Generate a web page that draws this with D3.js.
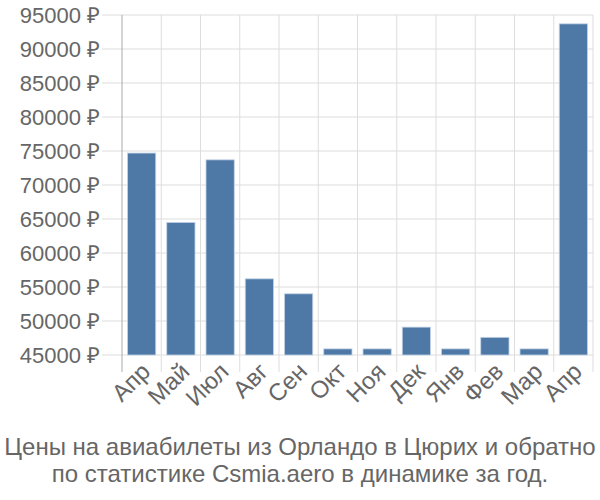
<!DOCTYPE html>
<html>
<head>
<meta charset="utf-8">
<script src="https://cdn.jsdelivr.net/npm/d3@7"></script>
<style>
  body { margin: 0; background: #fff; }
  text { font-family: "Liberation Sans", Arial, sans-serif; fill: #666; }
</style>
</head>
<body>
<div id="graphic"></div>
<script>
// months and average prices (rub)
var months = ["Апр", "Май", "Июл", "Авг", "Сен", "Окт", "Ноя", "Дек", "Янв", "Фев", "Мар", "Апр"];
var prices = [74700, 64500, 73700, 56200, 54000, 45900, 45900, 49100, 45900, 47600, 45900, 93700];
var yTicks = [45000, 50000, 55000, 60000, 65000, 70000, 75000, 80000, 85000, 90000, 95000];
var titleLines = ["Цены на авиабилеты из Орландо в Цюрих и обратно",
                  "по статистике Csmia.aero в динамике за год."];

var w = 600, h = 500;
var plotLeft = 122, plotRight = 593, plotTop = 15, plotBottom = 355;

var svg = d3.select("#graphic")
    .append("svg")
    .attr("width", w)
    .attr("height", h);

var idx = months.map(function(d, i){ return i; });

var xScale = d3.scaleBand()
    .domain(idx)
    .range([plotLeft, plotRight])
    .paddingInner(0.28)
    .paddingOuter(0.14);

var yScale = d3.scaleLinear()
    .domain([45000, 95000])
    .range([plotBottom, plotTop]);

// horizontal grid + tick marks
svg.append("g")
    .selectAll("line")
    .data(yTicks)
    .enter()
    .append("line")
    .attr("x1", plotLeft - 20)
    .attr("x2", plotRight)
    .attr("y1", function(d){ return yScale(d); })
    .attr("y2", function(d){ return yScale(d); })
    .attr("stroke", "#ddd")
    .attr("stroke-width", 1);

// vertical grid lines at band edges
var step = xScale.step();
var edges = d3.range(1, months.length + 1).map(function(i){ return plotLeft + i * step; });
svg.append("g")
    .selectAll("line")
    .data(edges)
    .enter()
    .append("line")
    .attr("x1", function(d){ return d; })
    .attr("x2", function(d){ return d; })
    .attr("y1", plotTop)
    .attr("y2", plotBottom + 17)
    .attr("stroke", "#ddd")
    .attr("stroke-width", 1);

// y axis line
svg.append("line")
    .attr("x1", plotLeft).attr("x2", plotLeft)
    .attr("y1", plotTop).attr("y2", plotBottom + 17)
    .attr("stroke", "#aaa")
    .attr("stroke-width", 1);

// bars
svg.append("g")
    .selectAll("rect")
    .data(prices)
    .enter()
    .append("rect")
    .attr("x", function(d, i){ return xScale(i); })
    .attr("y", function(d){ return yScale(d); })
    .attr("width", xScale.bandwidth())
    .attr("height", function(d){ return plotBottom - yScale(d); })
    .attr("fill", "#4e79a7")
    .attr("stroke", "#c4d3e6")
    .attr("stroke-width", 0.8);

// y labels
svg.append("g")
    .selectAll("text")
    .data(yTicks)
    .enter()
    .append("text")
    .attr("x", plotLeft - 22)
    .attr("y", function(d){ return yScale(d); })
    .attr("dy", "0.35em")
    .attr("text-anchor", "end")
    .style("font-size", "22px")
    .text(function(d){ return d + " ₽"; });

// x labels
svg.append("g")
    .selectAll("text")
    .data(months)
    .enter()
    .append("text")
    .attr("text-anchor", "end")
    .attr("transform", function(d, i){
        var x = xScale(i) + xScale.bandwidth() / 2 + 10;
        return "translate(" + x + "," + (plotBottom + 18) + ") rotate(-45)";
    })
    .style("font-size", "24px")
    .text(function(d){ return d; });

// title
svg.append("g")
    .selectAll("text")
    .data(titleLines)
    .enter()
    .append("text")
    .attr("x", w / 2)
    .attr("y", function(d, i){ return 455 + i * 27; })
    .attr("text-anchor", "middle")
    .style("font-size", "24px")
    .text(function(d){ return d; });
</script>
</body>
</html>
